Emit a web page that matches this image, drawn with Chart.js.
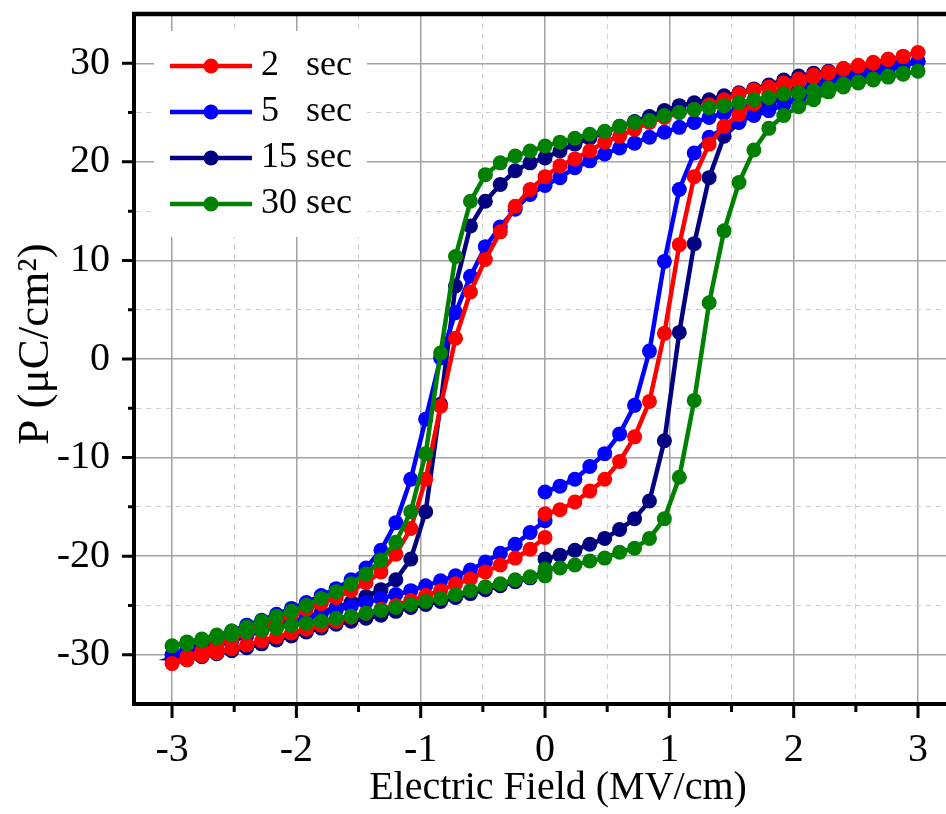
<!DOCTYPE html>
<html>
<head>
<meta charset="utf-8">
<script src="https://cdn.jsdelivr.net/npm/chart.js@4.4.1/dist/chart.umd.min.js"></script>
<style>
  html, body { margin: 0; padding: 0; background: #fff; }
  #wrap { width: 946px; height: 814px; }
</style>
</head>
<body>
<div id="wrap"><canvas id="pe" width="946" height="814"></canvas></div>
<script>
// field sweep (MV/cm): 0 -> +3 -> -3 -> 0, one point every 0.12
const fieldE = [
  0, 0.12, 0.24, 0.36, 0.48, 0.6, 0.72, 0.84, 0.96, 1.08, 1.2, 1.32, 1.44,
  1.56, 1.68, 1.8, 1.92, 2.04, 2.16, 2.28, 2.4, 2.52, 2.64, 2.76, 2.88, 3,
  2.88, 2.76, 2.64, 2.52, 2.4, 2.28, 2.16, 2.04, 1.92, 1.8, 1.68, 1.56, 1.44,
  1.32, 1.2, 1.08, 0.96, 0.84, 0.72, 0.6, 0.48, 0.36, 0.24, 0.12, 0,
  -0.12, -0.24, -0.36, -0.48, -0.6, -0.72, -0.84, -0.96, -1.08, -1.2, -1.32, -1.44,
  -1.56, -1.68, -1.8, -1.92, -2.04, -2.16, -2.28, -2.4, -2.52, -2.64, -2.76, -2.88, -3,
  -2.88, -2.76, -2.64, -2.52, -2.4, -2.28, -2.16, -2.04, -1.92, -1.8, -1.68, -1.56,
  -1.44, -1.32, -1.2, -1.08, -0.96, -0.84, -0.72, -0.6, -0.48, -0.36, -0.24, -0.12, 0
];

// polarization (uC/cm2) for each poling time, same order as fieldE
const p2s = [
  -15.7, -15.3, -14.5, -13.4, -12.2, -10.4, -7.9, -4.3, 2.6, 11.6, 18.5, 21.8, 23.6,
  24.8, 25.9, 26.8, 27.5, 28.1, 28.6, 29.0, 29.4, 29.7, 30.0, 30.4, 30.7, 31.1,
  30.7, 30.4, 30.1, 29.8, 29.5, 29.1, 28.8, 28.4, 28.0, 27.6, 27.3, 26.9, 26.3,
  25.8, 25.3, 25.0, 24.5, 24.0, 23.3, 22.6, 22.0, 21.1, 20.3, 19.6, 18.5,
  17.2, 15.5, 12.9, 10.1, 6.8, 2.1, -4.8, -12.2, -17.2, -19.8, -21.6, -22.7,
  -23.5, -24.2, -24.8, -25.4, -26.0, -26.6, -27.2, -27.8, -28.4, -29.0, -29.6, -30.2, -30.9,
  -30.5, -30.1, -29.8, -29.4, -29.0, -28.6, -28.2, -27.8, -27.4, -27.0, -26.6, -26.2,
  -25.8, -25.4, -25.0, -24.5, -24.0, -23.5, -22.8, -22.3, -21.6, -20.9, -20.2, -19.3, -18.1
];
const p5s = [
  -13.5, -12.9, -12.2, -10.9, -9.6, -7.6, -4.7, 0.8, 9.9, 17.2, 20.9, 22.5, 23.4,
  24.1, 24.7, 25.2, 25.8, 26.4, 26.9, 27.4, 27.9, 28.4, 28.9, 29.3, 29.7, 30.2,
  29.9, 29.6, 29.2, 28.9, 28.5, 28.1, 27.7, 27.3, 26.8, 26.4, 25.9, 25.4, 24.9,
  24.5, 24.0, 23.5, 23.0, 22.5, 21.9, 21.4, 20.8, 20.1, 19.4, 18.4, 17.6,
  16.7, 15.2, 13.4, 11.4, 8.4, 4.7, 0.1, -6.1, -12.2, -16.6, -19.4, -21.2,
  -22.4, -23.3, -24.0, -24.7, -25.3, -25.9, -26.5, -27.0, -27.6, -28.2, -28.8, -29.4, -30.0,
  -29.6, -29.2, -28.8, -28.3, -27.9, -27.5, -27.1, -26.7, -26.3, -25.9, -25.5, -25.1,
  -24.7, -24.3, -23.9, -23.5, -23.0, -22.5, -22.0, -21.4, -20.6, -19.7, -18.8, -17.6, -16.4
];
const p15s = [
  -20.3, -19.9, -19.4, -18.8, -18.2, -17.3, -16.2, -14.4, -8.3, 2.7, 11.7, 18.4, 22.6,
  24.0, 25.0, 25.8, 26.6, 27.3, 27.9, 28.4, 28.8, 29.2, 29.5, 29.8, 30.0, 30.2,
  30.1, 30.0, 29.8, 29.6, 29.4, 29.2, 29.0, 28.7, 28.3, 27.8, 27.4, 27.0, 26.7,
  26.3, 26.0, 25.7, 25.2, 24.6, 24.1, 23.6, 23.0, 22.4, 21.8, 21.1, 20.4,
  19.9, 19.1, 17.7, 16.0, 13.5, 7.4, -4.6, -15.5, -20.3, -22.4, -23.4, -24.1,
  -24.7, -25.2, -25.7, -26.2, -26.7, -27.2, -27.6, -28.1, -28.6, -29.1, -29.6, -30.0, -30.4,
  -30.5, -30.2, -29.9, -29.6, -29.3, -28.9, -28.5, -28.1, -27.7, -27.3, -26.9, -26.6,
  -26.3, -26.0, -25.6, -25.2, -24.9, -24.6, -24.2, -23.8, -23.4, -23.0, -22.6, -22.2, -21.6
];
const p30s = [
  -21.3, -21.2, -20.9, -20.5, -20.2, -19.6, -19.2, -18.2, -16.2, -12.0, -4.2, 5.7, 13.0,
  17.9, 21.2, 23.4, 24.7, 25.6, 26.3, 27.1, 27.6, 28.0, 28.3, 28.6, 28.9, 29.2,
  29.0, 28.7, 28.4, 28.1, 27.9, 27.5, 27.2, 27.0, 26.9, 26.5, 26.3, 26.0, 25.7,
  25.5, 25.3, 25.0, 24.7, 24.2, 24.0, 23.6, 23.1, 22.8, 22.4, 22.0, 21.6,
  21.1, 20.6, 19.9, 18.7, 16.0, 10.4, 0.6, -9.6, -15.5, -18.6, -20.4, -21.8,
  -22.8, -23.6, -24.3, -25.0, -25.6, -26.1, -26.6, -27.2, -27.6, -28.0, -28.4, -28.7, -29.1,
  -28.9, -28.6, -28.3, -28.0, -27.7, -27.5, -27.3, -27.0, -26.8, -26.6, -26.3, -26.1,
  -25.8, -25.5, -25.2, -24.9, -24.6, -24.3, -23.9, -23.5, -23.1, -22.8, -22.4, -22.1, -22.0
];

const seriesNames = ["2   sec", "5   sec", "15 sec", "30 sec"];
const seriesColors = ["#ff0000", "#0000ff", "#000080", "#008000"];
const drawOrder = [1, 2, 3, 0]; // green on top, navy at the bottom

const xMajorTicks = [-3, -2, -1, 0, 1, 2, 3];
const xMinorTicks = [-2.5, -1.5, -0.5, 0.5, 1.5, 2.5];
const yMajorTicks = [-30, -20, -10, 0, 10, 20, 30];
const yMinorTicks = [-25, -15, -5, 5, 15, 25];

const xTitle = "Electric Field (MV/cm)";
const yTitle = "P (\u03bcC/cm\u00b2)";

const FONT = "'Liberation Serif', 'Times New Roman', serif";

const seriesValues = [p2s, p5s, p15s, p30s];
const datasets = seriesValues.map((vals, i) => ({
  label: seriesNames[i],
  data: vals.map((p, j) => ({ x: fieldE[j], y: p })),
  borderColor: seriesColors[i],
  backgroundColor: seriesColors[i],
  borderWidth: 4.5,
  pointRadius: 7.5,
  pointHoverRadius: 7.5,
  pointBorderWidth: 0,
  tension: 0,
  order: drawOrder[i]
}));

const isMajor = (ctx, majors) => ctx.tick && majors.includes(ctx.tick.value);

function gridOpts(majors) {
  return {
    drawTicks: false,
    color: ctx => isMajor(ctx, majors) ? "#a2a2a2" : "#cfcfcf",
    lineWidth: ctx => isMajor(ctx, majors) ? 1.5 : 1
  };
}
function borderOpts(majors) {
  return {
    display: true,
    color: "#000",
    width: 4,
    dash: ctx => (ctx.tick && !majors.includes(ctx.tick.value)) ? [5, 5] : []
  };
}

// outside tick marks (long major, short minor), top frame line, axis titles
const axisMarks = {
  id: "axisMarks",
  afterDraw(chart) {
    const { ctx, chartArea: a, scales } = chart;
    ctx.save();
    ctx.strokeStyle = "#000";
    ctx.lineWidth = 3;
    ctx.beginPath();
    xMajorTicks.concat(xMinorTicks).forEach(v => {
      const px = scales.x.getPixelForValue(v);
      const len = xMajorTicks.includes(v) ? 14 : 8;
      ctx.moveTo(px, a.bottom);
      ctx.lineTo(px, a.bottom + len);
    });
    yMajorTicks.concat(yMinorTicks).forEach(v => {
      const py = scales.y.getPixelForValue(v);
      const len = yMajorTicks.includes(v) ? 12 : 6;
      ctx.moveTo(a.left, py);
      ctx.lineTo(a.left - len, py);
    });
    ctx.stroke();
    ctx.lineWidth = 4.5;
    ctx.beginPath();
    ctx.moveTo(a.left - 2, a.top);
    ctx.lineTo(a.right, a.top);
    ctx.stroke();

    ctx.fillStyle = "#000";
    ctx.textAlign = "center";
    ctx.textBaseline = "middle";
    ctx.font = "40px " + FONT;
    ctx.fillText(xTitle, a.left + 424, a.bottom + 84);
    ctx.font = "45px " + FONT;
    ctx.translate(36, a.top + 330);
    ctx.rotate(-Math.PI / 2);
    ctx.fillText(yTitle, 0, 0);
    ctx.restore();
  }
};

// legend drawn inside the plot, top left, on a white patch
const legendBox = {
  id: "legendBox",
  afterDraw(chart) {
    const { ctx, chartArea: a } = chart;
    const x0 = a.left + 20, y0 = a.top + 17;
    ctx.save();
    ctx.fillStyle = "#fff";
    ctx.fillRect(x0, y0, 213, 206);
    ctx.font = "36px " + FONT;
    ctx.textBaseline = "middle";
    seriesNames.forEach((name, i) => {
      const y = a.top + 52 + i * 46;
      ctx.strokeStyle = seriesColors[i];
      ctx.fillStyle = seriesColors[i];
      ctx.lineWidth = 4.5;
      ctx.beginPath();
      ctx.moveTo(x0 + 16, y);
      ctx.lineTo(x0 + 98, y);
      ctx.stroke();
      ctx.beginPath();
      ctx.arc(x0 + 57, y, 7.5, 0, Math.PI * 2);
      ctx.fill();
      ctx.fillStyle = "#000";
      ctx.fillText(name, x0 + 107, y);
    });
    ctx.restore();
  }
};

new Chart(document.getElementById("pe"), {
  type: "line",
  data: { datasets },
  plugins: [axisMarks, legendBox],
  options: {
    responsive: false,
    animation: false,
    events: [],
    layout: { autoPadding: false, padding: { left: 0, right: 0, top: 14, bottom: 0 } },
    plugins: { legend: { display: false }, tooltip: { enabled: false } },
    scales: {
      x: {
        type: "linear",
        min: -3.306,
        max: 3.225,
        afterBuildTicks: s => {
          s.ticks = xMajorTicks.concat(xMinorTicks).sort((a, b) => a - b).map(v => ({ value: v }));
        },
        afterFit: s => {
          s.height = 110;
          s.paddingLeft = 0;
          s.paddingRight = 0;
        },
        grid: gridOpts(xMajorTicks),
        border: borderOpts(xMajorTicks),
        ticks: {
          autoSkip: false,
          maxRotation: 0,
          minRotation: 0,
          padding: 22,
          color: "#000",
          font: { family: FONT, size: 40 },
          callback: v => xMajorTicks.includes(v) ? String(v) : ""
        }
      },
      y: {
        type: "linear",
        min: -35,
        max: 35,
        afterBuildTicks: s => {
          s.ticks = yMajorTicks.concat(yMinorTicks).sort((a, b) => a - b).map(v => ({ value: v }));
        },
        afterFit: s => {
          s.width = 134;
          s.paddingTop = 0;
          s.paddingBottom = 0;
        },
        grid: gridOpts(yMajorTicks),
        border: borderOpts(yMajorTicks),
        ticks: {
          autoSkip: false,
          padding: 24,
          color: "#000",
          font: { family: FONT, size: 40 },
          callback: v => yMajorTicks.includes(v) ? String(v) : ""
        }
      }
    }
  }
});
</script>
</body>
</html>
